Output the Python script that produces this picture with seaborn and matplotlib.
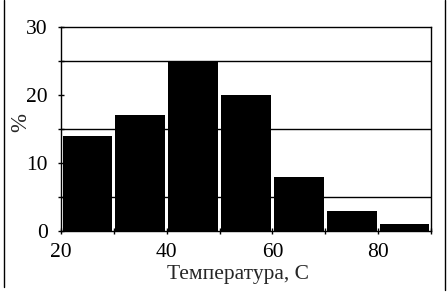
import matplotlib
matplotlib.use('Agg')
import matplotlib.pyplot as plt
import matplotlib.ticker as mticker
from matplotlib.lines import Line2D
import seaborn as sns

# temperature bins (left edges) and share of cases, %
bin_edges = [20, 30, 40, 50, 60, 70, 80, 90]
bin_mids = [25, 35, 45, 55, 65, 75, 85]
share = [14, 17, 25, 20, 8, 3, 1]

sns.set_style('ticks')
plt.rcParams['font.family'] = ['Liberation Serif', 'DejaVu Serif']

fig = plt.figure(figsize=(4.48, 2.94), dpi=100)
ax = fig.add_axes([61 / 448, 1 - 231 / 294, 370 / 448, 204 / 294])

sns.histplot(x=bin_mids, weights=share, bins=bin_edges, color='black',
             alpha=1, shrink=0.94, linewidth=0, ax=ax, zorder=3)

ax.set_xlim(20, 90)
ax.set_ylim(0, 30)
ax.xaxis.set_major_locator(mticker.MultipleLocator(20))
ax.xaxis.set_minor_locator(mticker.MultipleLocator(10))
ax.yaxis.set_major_locator(mticker.MultipleLocator(10))
ax.yaxis.set_minor_locator(mticker.MultipleLocator(5))
ax.grid(which='minor', axis='y', color='black', linewidth=1, zorder=1)
ax.set_axisbelow(True)

for side in ['top', 'right', 'left', 'bottom']:
    ax.spines[side].set_visible(True)
    ax.spines[side].set_color('black')
    ax.spines[side].set_linewidth(1)

fs = 15.5
ax.tick_params(which='both', direction='inout', length=5, width=1,
               color='black', labelsize=fs, labelcolor='black')
ax.tick_params(axis='y', pad=7)
ax.tick_params(axis='x', pad=6)

ax.set_xlabel('Температура, С', fontsize=fs)
ax.set_ylabel('%', fontsize=fs + 1)
ax.xaxis.set_label_coords(0.478, -0.165)
ax.yaxis.set_label_coords(-0.08, 0.53)

# outer frame lines of the picture
fig.add_artist(Line2D([4 / 448, 4 / 448], [1 - 287 / 294, 1], color='black', linewidth=1))
fig.add_artist(Line2D([445 / 448, 445 / 448], [1 - 290 / 294, 1], color='black', linewidth=1))

fig.savefig('out.png', dpi=100, facecolor='white')
